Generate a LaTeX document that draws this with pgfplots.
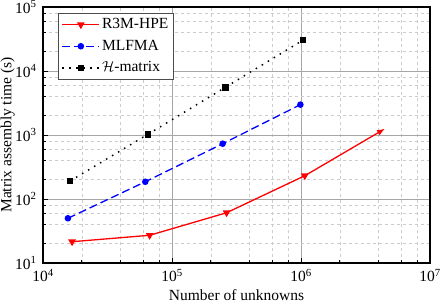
\documentclass[border=0pt]{standalone}
\usepackage{pgfplots}
\pgfplotsset{compat=1.18}
\usepackage{fontspec}
\setmainfont{Liberation Serif}
\usetikzlibrary{arrows.meta}
\newcommand\myfont{\fontsize{15.5}{18}\selectfont}
\begin{document}
\myfont
\begin{tikzpicture}[font=\myfont]
\begin{axis}[
  scale only axis, width=387pt, height=256pt,
  xmode=log, ymode=log,
  xmin=1e4, xmax=1e7, ymin=10, ymax=1e5,
  axis line style={line width=1.4pt},
  tick align=inside, xtick pos=bottom, ytick pos=left,
  major tick length=5pt, minor tick length=3pt,
  tick style={black, line width=0.8pt},
  xtick={1e4,1e5,1e6,1e7},
  xticklabels={10\textsuperscript{4},10\textsuperscript{5},10\textsuperscript{6},10\textsuperscript{7}},
  ytick={10,100,1000,1e4,1e5},
  yticklabels={10\textsuperscript{1},10\textsuperscript{2},10\textsuperscript{3},10\textsuperscript{4},10\textsuperscript{5}},
  minor xtick={2e4,4e4,6e4,8e4,2e5,4e5,6e5,8e5,2e6,4e6,6e6,8e6},
  minor ytick={20,40,60,80,200,400,600,800,2000,4000,6000,8000,20000,40000,60000,80000},
  grid=both,
  major grid style={gray!70, line width=0.8pt},
  minor grid style={gray!40, dashed, line width=0.5pt},
  xlabel={Number of unknowns}, ylabel={Matrix assembly time (s)},
  ticklabel style={font=\myfont},
  label style={font=\myfont},
  xticklabel style={yshift=-1pt},
  yticklabel style={xshift=-1pt},
  xlabel style={yshift=3pt},
  ylabel style={yshift=-10pt},
  legend cell align=left,
  legend style={at={(0.039,0.977)}, anchor=north west, draw=gray!60!black, line width=1pt,
    font=\myfont, nodes={font=\myfont}, row sep=5pt, inner sep=3pt},
  legend image code/.code={\draw[#1, mark indices={2}, -] plot coordinates {(0cm,0cm) (0.65cm,0cm) (1.3cm,0cm)};},
]
\addplot[red, line width=1.3pt, mark=triangle*, mark size=3.2pt,
  mark options={rotate=180, solid, -}, mark indices={1,2,3,4},
  -{Latex[length=8pt,width=6pt]}]
  coordinates {(16800,21.5) (67100,27.1) (265000,61) (1070000,231) (4480000,1254)};
\addlegendentry{R3M-HPE}
\addplot[blue, line width=1.3pt, dash pattern=on 8pt off 4pt, mark=*, mark size=2.6pt,
  mark options={solid}]
  coordinates {(15600,50) (62100,186) (247000,731) (989000,2980)};
\addlegendentry{MLFMA}
\addplot[black, line width=1.5pt, dash pattern=on 1.5pt off 5.5pt, mark=square*, mark size=2.5pt,
  mark options={solid}]
  coordinates {(16200,191) (65100,1026) (259000,5560) (1040000,30500)};
\addlegendentry{$\mathcal{H}$-matrix}
\end{axis}
\pgfresetboundingbox
\useasboundingbox (-43pt,-41pt) rectangle (400pt,263pt);
\end{tikzpicture}
\end{document}
